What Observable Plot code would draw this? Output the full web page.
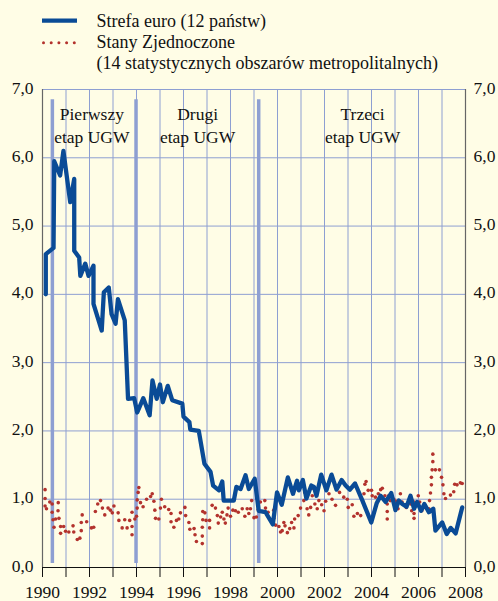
<!DOCTYPE html>
<html>
<head>
<meta charset="utf-8">
<script src="https://cdn.jsdelivr.net/npm/d3@7"></script>
<script src="https://cdn.jsdelivr.net/npm/@observablehq/plot@0.6"></script>
<style>
  html, body { margin: 0; padding: 0; background: #fffde6; }
  #wrap { width: 498px; height: 601px; overflow: hidden; background: #fffde6; }
  svg { display: block; }
</style>
</head>
<body>
<div id="wrap"></div>
<script>
// ---- Data ----
const euroYear = [1990.14,1990.14,1990.47,1990.50,1990.75,1990.89,1991.18,1991.35,1991.35,1991.56,1991.61,1991.82,1991.96,1992.17,1992.17,1992.52,1992.61,1992.82,1992.94,1993.11,1993.21,1993.50,1993.64,1993.90,1994.03,1994.29,1994.56,1994.68,1994.86,1995.00,1995.12,1995.33,1995.52,1995.95,1996.00,1996.25,1996.29,1996.65,1996.89,1997.15,1997.26,1997.51,1997.65,1997.71,1998.14,1998.25,1998.43,1998.64,1998.78,1999.03,1999.20,1999.49,1999.80,1999.98,2000.18,2000.44,2000.66,2000.83,2000.91,2001.08,2001.23,2001.44,2001.55,2001.66,2001.86,2002.08,2002.30,2002.51,2002.73,2002.90,2003.08,2003.30,2003.60,2003.99,2004.22,2004.39,2004.60,2004.84,2005.02,2005.16,2005.31,2005.49,2005.66,2005.81,2005.94,2006.11,2006.25,2006.44,2006.63,2006.72,2007.01,2007.20,2007.37,2007.58,2007.86];
const euroValue = [4.00,4.59,4.68,5.95,5.74,6.10,5.35,5.69,4.64,4.54,4.27,4.45,4.27,4.42,3.86,3.47,4.03,4.10,3.71,3.57,3.93,3.62,2.47,2.48,2.27,2.48,2.23,2.74,2.47,2.68,2.42,2.66,2.45,2.40,2.21,2.13,2.02,2.00,1.52,1.40,1.20,1.13,1.26,0.98,0.98,1.18,1.15,1.35,1.15,1.30,0.83,0.81,0.63,1.10,0.92,1.32,1.08,1.27,1.13,1.28,1.01,1.20,1.18,1.05,1.36,1.13,1.36,1.14,1.28,1.20,1.14,1.23,0.99,0.66,0.94,1.05,0.96,1.09,0.84,0.98,0.93,0.89,1.05,0.86,0.96,0.83,0.93,0.81,0.86,0.54,0.66,0.49,0.58,0.50,0.88];

const usYear = [1990.11,1990.11,1990.11,1990.17,1990.31,1990.41,1990.41,1990.45,1990.49,1990.56,1990.66,1990.67,1990.70,1990.77,1990.77,1990.90,1990.98,1991.12,1991.30,1991.33,1991.48,1991.59,1991.65,1991.65,1991.69,1991.88,1992.08,1992.18,1992.25,1992.35,1992.47,1992.55,1992.65,1992.79,1992.89,1992.97,1993.04,1993.22,1993.25,1993.39,1993.50,1993.60,1993.71,1993.81,1993.81,1993.81,1993.93,1994.00,1994.03,1994.03,1994.07,1994.10,1994.17,1994.28,1994.43,1994.60,1994.67,1994.74,1994.78,1994.81,1994.95,1995.02,1995.06,1995.20,1995.37,1995.47,1995.47,1995.59,1995.70,1995.80,1995.87,1996.06,1996.09,1996.23,1996.27,
1996.45,1996.49,1996.55,1996.80,1996.80,1996.80,1996.82,1996.82,1996.91,1996.96,1997.11,1997.11,1997.22,1997.36,1997.44,1997.48,1997.58,1997.65,1997.72,1997.78,1997.85,1997.90,1998.00,1998.10,1998.21,1998.33,1998.50,1998.61,1998.71,1998.78,1998.85,1998.90,1999.00,1999.10,1999.18,1999.27,1999.46,1999.49,1999.60,1999.84,1999.84,1999.92,2000.06,2000.13,2000.20,2000.27,2000.32,2000.42,2000.52,2000.60,2000.70,2000.73,2000.88,2000.98,2001.12,2001.16,2001.26,2001.33,2001.41,2001.48,2001.51,2001.59,2001.69,2001.76,2001.88,2001.98,2002.05,2002.19,
2002.32,2002.47,2002.64,2002.82,2002.97,2003.01,2003.18,2003.25,2003.40,2003.54,2003.64,2003.68,2003.72,2003.77,2003.86,2004.00,2004.03,2004.17,2004.29,2004.39,2004.46,2004.57,2004.67,2004.67,2004.67,2004.73,2004.80,2004.95,2005.05,2005.13,2005.23,2005.30,2005.42,2005.48,2005.60,2005.67,2005.71,2005.77,2005.81,2005.81,2005.91,2005.99,2006.05,2006.14,2006.22,2006.32,2006.44,2006.47,2006.51,2006.55,2006.55,2006.58,2006.61,2006.61,2006.72,2006.89,2006.98,2007.04,2007.08,2007.15,2007.36,2007.50,2007.54,2007.64,2007.78,2007.86];
const usValue = [1.14,1.01,0.90,0.86,0.96,0.93,0.81,0.70,0.59,0.71,0.83,0.95,0.72,0.60,0.50,0.60,0.53,0.52,0.61,0.52,0.41,0.43,0.54,0.66,0.77,0.67,0.58,0.59,0.82,0.93,0.98,0.87,0.77,0.87,0.84,0.80,0.90,0.80,0.69,0.58,0.70,0.58,0.69,0.81,0.60,0.48,0.71,0.75,0.87,0.99,1.10,1.17,0.95,0.89,1.00,1.04,1.08,0.97,0.84,0.72,0.71,0.87,1.00,0.89,0.85,0.79,0.67,0.59,0.69,0.71,0.80,0.88,0.76,0.66,0.56,
0.57,0.48,0.38,0.35,0.46,0.59,0.70,0.82,0.80,0.69,0.69,0.58,0.91,0.87,0.76,0.65,0.74,0.81,0.71,0.65,0.77,0.87,0.75,0.84,0.83,0.81,0.86,0.75,0.86,0.79,0.86,0.98,0.73,0.74,0.85,0.96,0.98,0.87,0.81,0.84,0.72,0.62,0.60,0.52,0.54,0.66,0.61,0.51,0.57,0.66,0.58,0.71,0.76,0.87,0.98,1.10,0.86,0.77,0.88,1.05,1.16,0.93,0.86,0.98,0.92,0.83,0.97,1.08,
1.00,0.91,1.10,1.03,1.00,0.88,0.92,0.75,0.79,0.76,0.96,1.08,1.22,1.26,1.13,1.13,1.05,1.03,1.08,1.14,1.16,1.05,0.93,0.82,0.71,1.05,0.98,1.00,0.97,0.86,1.08,0.96,0.92,0.88,0.98,0.93,0.83,0.97,0.79,0.72,0.91,1.05,0.96,0.83,0.88,0.88,0.86,0.98,1.09,1.21,1.32,1.43,1.55,1.66,1.43,1.43,1.32,1.21,1.08,1.01,1.06,1.11,1.22,1.21,1.24,1.23];

const phaseStart = [1990.42, 1993.98, 1999.2];
const phaseLabel = ["Pierwszy\netap UGW", "Drugi\netap UGW", "Trzeci\netap UGW"];
const phaseLabelX = [1992.1, 1996.6, 2003.62];

const yTicks = [0, 1, 2, 3, 4, 5, 6, 7];
const yGrid = [1, 2, 3, 4, 5, 6, 7];
const xTicks = d3.range(1990, 2009);
const xGrid = d3.range(1991, 2008);
const xLabels = [1990, 1992, 1994, 1996, 1998, 2000, 2002, 2004, 2006, 2008];

const seriesNames = ["Strefa euro (12 państw)", "Stany Zjednoczone", "(14 statystycznych obszarów metropolitalnych)"];

// ---- Build tables ----
const euro = euroYear.map((x, i) => ({x, y: euroValue[i]}));
const us = usYear.map((x, i) => ({x, y: usValue[i]}));
const phases = phaseStart.map((x, i) => ({x, label: phaseLabel[i], lx: phaseLabelX[i]}));

const BLUE = "#0a4b96";
const RED = "#b3322d";
const GRID = "#8e9fd2";
const BG = "#fffde6";
const FONT = "'Liberation Serif', 'Times New Roman', 'DejaVu Serif', serif";
const fmt = d => d.toFixed(1).replace(".", ",");

// ---- Legend (SVG above the plot) ----
const wrap = document.getElementById("wrap");
const ns = "http://www.w3.org/2000/svg";
const leg = document.createElementNS(ns, "svg");
leg.setAttribute("width", 498);
leg.setAttribute("height", 75);
leg.setAttribute("font-family", FONT);
leg.setAttribute("font-size", "18px");
const ln = document.createElementNS(ns, "line");
ln.setAttribute("x1", 42); ln.setAttribute("x2", 77);
ln.setAttribute("y1", 20.7); ln.setAttribute("y2", 20.7);
ln.setAttribute("stroke", BLUE); ln.setAttribute("stroke-width", 4.2);
leg.appendChild(ln);
for (let i = 0; i < 5; i++) {
  const c = document.createElementNS(ns, "circle");
  c.setAttribute("cx", 43.5 + i * 7.7); c.setAttribute("cy", 42.7);
  c.setAttribute("r", 1.5); c.setAttribute("fill", RED);
  leg.appendChild(c);
}
[27.3, 48.3, 69.3].forEach((y, i) => {
  const t = document.createElementNS(ns, "text");
  t.setAttribute("x", 96.5); t.setAttribute("y", y);
  t.setAttribute("fill", "#111");
  t.textContent = seriesNames[i];
  leg.appendChild(t);
});
wrap.appendChild(leg);

// ---- Plot ----
const chart = Plot.plot({
  width: 498,
  height: 526,
  marginTop: 14,
  marginBottom: 34,
  marginLeft: 42,
  marginRight: 33,
  style: {fontFamily: FONT, fontSize: "17.5px", background: BG, color: "#111"},
  x: {domain: [1990, 2008], label: null},
  y: {domain: [0, 7], label: null},
  marks: [
    Plot.gridX(xGrid, {stroke: GRID, strokeOpacity: 1, strokeWidth: 1}),
    Plot.gridY(yGrid, {stroke: GRID, strokeOpacity: 1, strokeWidth: 1}),
    Plot.ruleX(phases, {x: "x", y1: 0.06, y2: 6.85, stroke: GRID, strokeWidth: 3.5}),
    Plot.text(phases, {x: "lx", y: 6.78, text: "label", lineAnchor: "top", lineHeight: 1.27, fontSize: 17.5, fill: "#111"}),
    Plot.ruleX([1990, 2008], {stroke: "#666", strokeWidth: 1.2}),
    Plot.ruleY([0], {stroke: "#111", strokeWidth: 1.2}),
    Plot.dot(us, {x: "x", y: "y", r: 1.8, fill: RED, stroke: null}),
    Plot.line(euro, {x: "x", y: "y", stroke: BLUE, strokeWidth: 4.3}),
    Plot.axisY(yTicks, {anchor: "left", label: null, tickSize: 0, tickPadding: 9, tickFormat: fmt, fontSize: 17.5, dy: -1.5}),
    Plot.axisY(yTicks, {anchor: "right", label: null, tickSize: 0, tickPadding: 8, tickFormat: fmt, fontSize: 17.5, dy: -1.5}),
    Plot.axisX(xTicks, {anchor: "bottom", label: null, tickSize: 10, tickFormat: () => "", stroke: "#111"}),
    Plot.axisX(xLabels, {anchor: "bottom", label: null, tickSize: 0, tickPadding: 17.6, tickFormat: d => String(d), fontSize: 17.5})
  ]
});
wrap.appendChild(chart);
</script>
</body>
</html>
